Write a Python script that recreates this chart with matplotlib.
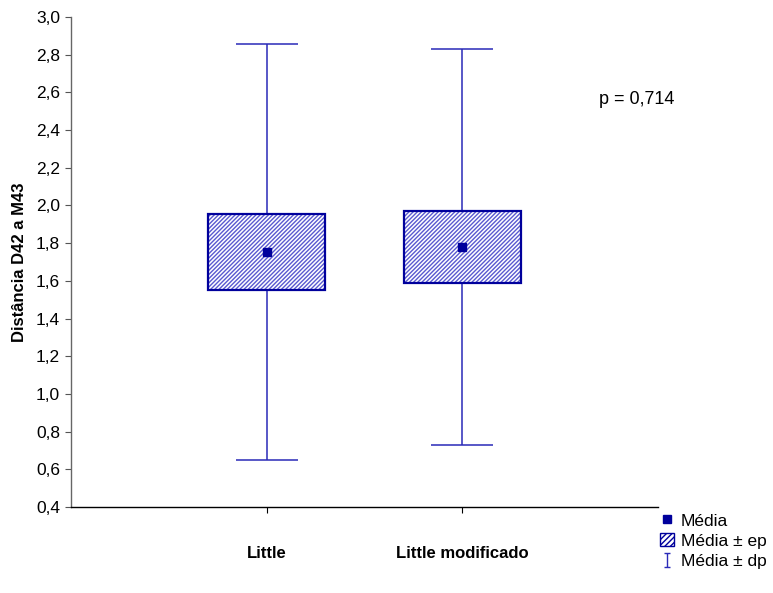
import matplotlib
matplotlib.use("Agg")
import matplotlib.pyplot as plt
from matplotlib.patches import Rectangle
from matplotlib.lines import Line2D
from matplotlib.path import Path
from matplotlib.ticker import FuncFormatter

plt.rcParams['font.family'] = ['Liberation Sans', 'DejaVu Sans']

categories = ["Little", "Little modificado"]
means = [1.752, 1.780]
se = [0.202, 0.191]
sd = [1.105, 1.052]
y_ticks = [0.4, 0.6, 0.8, 1.0, 1.2, 1.4, 1.6, 1.8, 2.0, 2.2, 2.4, 2.6, 2.8, 3.0]
p_text = "p = 0,714"

W, H = 773, 593
fig = plt.figure(figsize=(W / 100, H / 100), dpi=100)
ax = fig.add_axes([71 / W, (H - 507) / H, (658 - 71) / W, (507 - 17) / H])

navy = '#00009c'
blue = '#2a2ab8'
hatchc = '#5a5ad0'

xs = [1, 2]
ax.errorbar(xs, means, yerr=sd, fmt='none', ecolor=blue, elinewidth=1.1,
            capsize=22, capthick=1.1, zorder=1)
ax.bar(xs, [2 * s for s in se], bottom=[m - s for m, s in zip(means, se)], width=0.6,
       color='white', edgecolor=hatchc, hatch='////////', linewidth=0, zorder=2)
ax.bar(xs, [2 * s for s in se], bottom=[m - s for m, s in zip(means, se)], width=0.6,
       fill=False, edgecolor=navy, linewidth=1.6, zorder=3)
ax.plot(xs, means, linestyle='none', marker='s', markersize=5.5, color=navy, zorder=4)

ax.set_xlim(0, 3)
ax.set_ylim(0.4, 3.0)
ax.set_yticks(y_ticks)
ax.yaxis.set_major_formatter(FuncFormatter(lambda v, p: f"{v:.1f}".replace('.', ',')))
ax.set_xticks(xs)
ax.set_xticklabels(categories, fontweight='bold', fontsize=12)
ax.tick_params(axis='y', labelsize=12.5, length=4, width=0.8, color='#555555', pad=4)
ax.tick_params(axis='x', length=4, width=0.8, pad=24)
ax.set_ylabel("Distância D42 a M43", fontweight='bold', fontsize=12, labelpad=6)
for s in ['top', 'right']:
    ax.spines[s].set_visible(False)
ax.spines['left'].set_color('#666666')
ax.spines['bottom'].set_color('black')
ax.spines['left'].set_linewidth(1.0)
ax.spines['bottom'].set_linewidth(1.0)

fig.text(637 / W, 1 - 99 / H, p_text, ha='center', va='center', fontsize=13)

ibeam = Path([(-0.5, 1), (0.5, 1), (0, 1), (0, -1), (-0.5, -1), (0.5, -1)],
             [Path.MOVETO, Path.LINETO, Path.MOVETO, Path.LINETO, Path.MOVETO, Path.LINETO])
handles = [
    Line2D([], [], linestyle='none', marker='s', markersize=6, color=navy),
    Rectangle((0, 0), 1, 1, facecolor='white', edgecolor=navy, hatch='//////', linewidth=1),
    Line2D([], [], linestyle='none', marker=ibeam, markersize=10, markeredgewidth=1,
           color=blue, fillstyle='none'),
]
labels = ["Média", "Média ± ep", "Média ± dp"]
fig.legend(handles, labels, loc='center left', bbox_to_anchor=(660 / W, 1 - 541 / H),
           frameon=False, fontsize=12.5, handlelength=0.8, handleheight=0.8, handletextpad=0.4,
           labelspacing=0.25, borderpad=0, borderaxespad=0)

fig.savefig("out.png", dpi=100)
